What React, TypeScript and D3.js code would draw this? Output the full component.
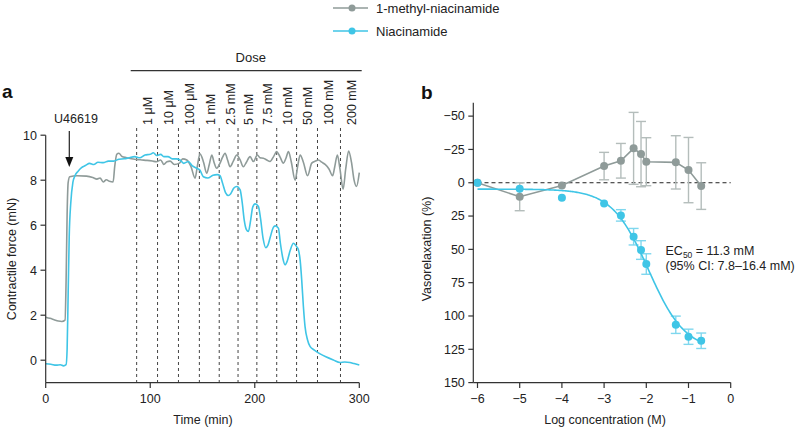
import React from "react";
import * as d3 from "d3";

// ---------- Panel a data ----------
const grayTrace: [number, number][] = [
  [0, 1.91], [4, 1.86], [8, 1.8], [12, 1.74], [15.5, 1.72], [18.5, 1.78], [19.5, 3.5], [20.5, 6.5], [21.5, 7.9],
  [23, 8.15], [30, 8.2], [39, 8.18], [45, 8.12], [49, 8.05], [52, 8.1], [55, 7.92], [58, 8.02], [61, 7.95],
  [64.5, 7.92], [66, 8.6], [68, 9.15], [70, 9.2], [73, 9.05], [77.5, 9.0], [82, 8.95], [87, 8.92], [92, 8.9],
  [97, 8.88], [102, 8.85], [106, 8.82], [110, 8.9], [113, 8.7], [116, 8.82], [119, 8.85], [123, 8.7], [128, 8.76],
  [131, 8.95], [135, 8.9], [139, 8.6], [142.9, 8.09], [145, 8.6], [147.6, 9.17], [151, 8.8], [154, 8.31],
  [156.5, 8.7], [158.9, 9.12], [161, 8.8], [163.6, 8.53], [166.8, 8.76], [169, 9.0], [171.6, 9.2], [174, 8.9],
  [176.4, 8.6], [179.5, 8.85], [182.8, 9.12], [186, 8.9], [189.1, 8.6], [192, 8.8], [195.5, 9.05], [198.7, 8.83],
  [202.5, 9.12], [205, 9.0], [208.2, 8.98], [211.5, 8.9], [214.6, 8.83], [218, 9.05], [221, 9.27], [224, 9.05],
  [227.4, 8.76], [230, 9.0], [232.2, 9.27], [235, 8.8], [238.6, 8.0], [241, 8.6], [243.4, 9.12], [246.5, 8.8],
  [250.5, 8.2], [254.5, 8.76], [258, 8.85], [261, 8.9], [264, 8.8], [267.3, 8.7], [271, 8.5], [274.5, 8.2],
  [276.5, 8.6], [279, 9.12], [281.5, 8.5], [284.5, 7.6], [287, 8.5], [289.8, 9.3], [292.5, 8.8], [295, 8.0],
  [297.3, 7.72], [300, 8.34],
];

const cyanTrace: [number, number][] = [
  [0, -0.16], [5, -0.18], [10, -0.22], [14, -0.2], [17, -0.25], [19.5, -0.2], [20.5, 0.5], [21.5, 3.0],
  [22.5, 5.5], [24, 7.0], [26, 7.9], [28, 8.2], [31, 8.4], [34, 8.55], [38, 8.65], [42, 8.75], [46, 8.7],
  [50, 8.8], [55, 8.78], [60, 8.85], [65, 8.85], [70, 8.93], [75, 8.95], [80, 9.0], [85, 9.05], [90, 9.0],
  [95, 9.12], [100, 9.15], [103, 9.22], [106, 9.1], [110, 9.15], [113, 9.05], [117, 9.05], [121, 8.95],
  [125, 8.95], [128.5, 8.9], [132, 8.75], [136.5, 8.83], [140, 8.65], [144.5, 8.53], [147.5, 8.45],
  [150.8, 8.15], [155, 8.1], [160, 8.22], [164, 8.25], [166.8, 8.2], [169, 7.9], [172, 7.45], [174.7, 7.32],
  [177, 7.4], [180, 7.65], [182.8, 7.72], [186, 7.57], [188, 7.0], [190, 6.2], [192, 5.8], [193.9, 5.72],
  [196, 6.2], [198, 6.8], [200.3, 6.95], [203.5, 6.83], [205.5, 6.3], [208, 5.4], [210.5, 5.0], [212.5, 5.1],
  [215, 5.5], [217.8, 5.9], [219.5, 5.97], [222.6, 5.87], [224.5, 5.2], [227, 4.5], [229, 4.24], [231, 4.4],
  [234, 4.9], [237, 5.2], [240, 5.05], [241.8, 4.9], [243.5, 4.4], [244.9, 3.57], [246.5, 2.4], [248.1, 1.49],
  [250.5, 0.9], [253, 0.6], [257, 0.45], [262.5, 0.28], [268, 0.15], [275.2, 0.01], [281.6, -0.1],
  [286, -0.08], [291, -0.1], [295, -0.15], [300, -0.21],
];

const doseTimes = [87, 107, 127, 147, 166, 184, 202, 221, 240, 260, 282];
const doseLabels = ["1 μM", "10 μM", "100 μM", "1 mM", "2.5 mM", "5 mM", "7.5 mM", "10 mM", "50 mM", "100 mM", "200 mM"];
const timeTicks = [0, 100, 200, 300];
const forceTicks = [0, 2, 4, 6, 8, 10];

// ---------- Panel b data ----------
const logConc = [-6, -5, -4, -3, -2.602, -2.301, -2.125, -2, -1.301, -1, -0.699];
const methylMean = [0, 10.5, 2, -12.5, -16.5, -25.8, -21.5, -15.8, -15.3, -9.5, 2.5];
const methylErr = [0, 10.5, 0, 10.3, 13, 27, 24.5, 18, 20, 24.5, 17.5];
const niaMean = [0, 4.5, 11.3, 15.5, 24.5, 40.5, 50.5, 61, 106.6, 115.6, 118.6];
const niaErr = [0, 0, 0, 0, 4.3, 6.2, 7, 7.7, 6.5, 5.7, 5.8];
const logTicks = [-6, -5, -4, -3, -2, -1, 0];
const relaxTicks = [-50, -25, 0, 25, 50, 75, 100, 125, 150];
// Hill fit parameters
const fitBottom = 4.8;
const fitTop = 126;
const fitLogEC50 = Math.log10(0.0113);
const fitHill = 1.0;

const GRAY = "#8f9b99";
const GRAY_ERR = "#b4bdbb";
const CYAN = "#3fc5e6";
const CYAN_ERR = "#7fd7ee";
const AXIS = "#333";
const FONT = "Liberation Sans, Arial, sans-serif";

export default function App() {
  // Panel a scales
  const xa = d3.scaleLinear().domain([0, 300]).range([45.7, 359.3]);
  const ya = d3.scaleLinear().domain([-1, 10]).range([382.7, 135.2]);
  const lineA = d3
    .line<[number, number]>()
    .x((d) => xa(d[0]))
    .y((d) => ya(d[1]))
    .curve(d3.curveMonotoneX);

  // Panel b scales
  const xb = d3.scaleLinear().domain([-6, 0]).range([477.5, 730.7]);
  const yb = d3.scaleLinear().domain([-60, 150]).range([102.8, 382.6]);
  const yAxisBX = 473.3;

  const fitXs = d3.range(0, 201).map((i) => -6 + (i / 200) * (-0.699 + 6));
  const hill = (x: number) => fitBottom + (fitTop - fitBottom) / (1 + Math.pow(10, (fitLogEC50 - x) * fitHill));
  const fitLine = d3
    .line<number>()
    .x((x) => xb(x))
    .y((x) => yb(hill(x)));

  const methylLine = d3
    .line<number>()
    .x((_, i) => xb(logConc[i]))
    .y((v) => yb(v));

  const capW = 5;

  return (
    <svg width={798} height={429} style={{ position: "absolute", left: 0, top: 0 }} fontFamily={FONT}>
      <rect width={798} height={429} fill="#fff" />

      {/* Legend */}
      <g>
        <line x1={333} x2={368} y1={8} y2={8} stroke={GRAY} strokeWidth={1.5} />
        <circle cx={352} cy={8} r={3.5} fill={GRAY} />
        <text x={376} y={12.5} fontSize={13} fill="#222">1-methyl-niacinamide</text>
        <line x1={333} x2={368} y1={31} y2={31} stroke={CYAN} strokeWidth={1.5} />
        <circle cx={352} cy={31} r={3.5} fill={CYAN} />
        <text x={376} y={35.5} fontSize={13} fill="#222">Niacinamide</text>
      </g>

      {/* Panel labels */}
      <text x={2} y={98} fontSize={19} fontWeight="bold" fill="#111">a</text>
      <text x={421} y={98.5} fontSize={19} fontWeight="bold" fill="#111">b</text>

      {/* ---------- Panel a ---------- */}
      <text x={250.7} y={62} fontSize={13} textAnchor="middle" fill="#222">Dose</text>
      <line x1={130.7} x2={361.7} y1={70.7} y2={70.7} stroke={AXIS} strokeWidth={1.2} />

      {doseTimes.map((t, i) => (
        <g key={"dose" + i}>
          <line x1={xa(t)} x2={xa(t)} y1={128} y2={382.7} stroke="#444" strokeWidth={1} strokeDasharray="3,3" />
          <text
            transform={`translate(${xa(t) + 11},125) rotate(-90)`}
            textAnchor="start"
            dy="0.35em"
            fontSize={12.5}
            fill="#222"
          >
            {doseLabels[i]}
          </text>
        </g>
      ))}

      <path d={lineA(grayTrace) || ""} fill="none" stroke={GRAY} strokeWidth={1.6} />
      <path d={lineA(cyanTrace) || ""} fill="none" stroke={CYAN} strokeWidth={1.6} />

      {/* U46619 arrow */}
      <text x={76} y={122.5} fontSize={12.5} textAnchor="middle" fill="#222">U46619</text>
      <line x1={69.3} x2={69.3} y1={131} y2={158} stroke="#222" strokeWidth={1.2} />
      <path d={`M${69.3 - 4},157 L${69.3 + 4},157 L69.3,167 Z`} fill="#111" />

      {/* axes a */}
      <line x1={45.7} x2={45.7} y1={ya(10)} y2={382.7} stroke={AXIS} strokeWidth={1.2} />
      <line x1={45.7} x2={359.3} y1={382.7} y2={382.7} stroke={AXIS} strokeWidth={1.2} />
      {forceTicks.map((v) => (
        <g key={"fy" + v}>
          <line x1={40.5} x2={45.7} y1={ya(v)} y2={ya(v)} stroke={AXIS} strokeWidth={1.2} />
          <text x={37} y={ya(v)} dy="0.35em" textAnchor="end" fontSize={12.5} fill="#222">{v}</text>
        </g>
      ))}
      {timeTicks.map((v) => (
        <g key={"tx" + v}>
          <line x1={xa(v)} x2={xa(v)} y1={382.7} y2={388} stroke={AXIS} strokeWidth={1.2} />
          <text x={xa(v)} y={403} textAnchor="middle" fontSize={12.5} fill="#222">{v}</text>
        </g>
      ))}
      <text x={203} y={424} textAnchor="middle" fontSize={12.5} fill="#222">Time (min)</text>
      <text transform="translate(12,259) rotate(-90)" textAnchor="middle" dy="0.35em" fontSize={12.5} fill="#222">
        Contractile force (mN)
      </text>

      {/* ---------- Panel b ---------- */}
      <line x1={xb(-6)} x2={xb(0)} y1={yb(0)} y2={yb(0)} stroke="#222" strokeWidth={1} strokeDasharray="4,3" />

      {/* methyl error bars */}
      {logConc.map((x, i) =>
        methylErr[i] > 0 ? (
          <g key={"me" + i} stroke={GRAY_ERR} strokeWidth={1.4}>
            <line x1={xb(x)} x2={xb(x)} y1={yb(methylMean[i] - methylErr[i])} y2={yb(methylMean[i] + methylErr[i])} />
            <line x1={xb(x) - capW} x2={xb(x) + capW} y1={yb(methylMean[i] - methylErr[i])} y2={yb(methylMean[i] - methylErr[i])} />
            <line x1={xb(x) - capW} x2={xb(x) + capW} y1={yb(methylMean[i] + methylErr[i])} y2={yb(methylMean[i] + methylErr[i])} />
          </g>
        ) : null
      )}
      <path d={methylLine(methylMean) || ""} fill="none" stroke={GRAY} strokeWidth={1.6} />
      {logConc.map((x, i) => (
        <circle key={"mc" + i} cx={xb(x)} cy={yb(methylMean[i])} r={4} fill={GRAY} />
      ))}

      {/* niacinamide */}
      {logConc.map((x, i) =>
        niaErr[i] > 0 ? (
          <g key={"ne" + i} stroke={CYAN_ERR} strokeWidth={1.4}>
            <line x1={xb(x)} x2={xb(x)} y1={yb(niaMean[i] - niaErr[i])} y2={yb(niaMean[i] + niaErr[i])} />
            <line x1={xb(x) - capW} x2={xb(x) + capW} y1={yb(niaMean[i] - niaErr[i])} y2={yb(niaMean[i] - niaErr[i])} />
            <line x1={xb(x) - capW} x2={xb(x) + capW} y1={yb(niaMean[i] + niaErr[i])} y2={yb(niaMean[i] + niaErr[i])} />
          </g>
        ) : null
      )}
      <path d={fitLine(fitXs) || ""} fill="none" stroke={CYAN} strokeWidth={1.6} />
      {logConc.map((x, i) => (
        <circle key={"nc" + i} cx={xb(x)} cy={yb(niaMean[i])} r={4} fill={CYAN} />
      ))}

      {/* EC50 annotation */}
      <text x={665.5} y={255} fontSize={12.5} fill="#222">
        EC<tspan fontSize={8.5} dy={3}>50</tspan>
        <tspan dy={-3}> = 11.3 mM</tspan>
      </text>
      <text x={665.5} y={269.5} fontSize={12.5} fill="#222">(95% CI: 7.8–16.4 mM)</text>

      {/* axes b */}
      <line x1={yAxisBX} x2={yAxisBX} y1={yb(-60)} y2={382.6} stroke={AXIS} strokeWidth={1.2} />
      <line x1={yAxisBX} x2={xb(0)} y1={382.6} y2={382.6} stroke={AXIS} strokeWidth={1.2} />
      {relaxTicks.map((v) => (
        <g key={"ry" + v}>
          <line x1={yAxisBX - 5} x2={yAxisBX} y1={yb(v)} y2={yb(v)} stroke={AXIS} strokeWidth={1.2} />
          <text x={yAxisBX - 8.5} y={yb(v)} dy="0.35em" textAnchor="end" fontSize={12.5} fill="#222">
            {v < 0 ? "−" + Math.abs(v) : v}
          </text>
        </g>
      ))}
      {logTicks.map((v) => (
        <g key={"lx" + v}>
          <line x1={xb(v)} x2={xb(v)} y1={382.6} y2={388} stroke={AXIS} strokeWidth={1.2} />
          <text x={xb(v)} y={403} textAnchor="middle" fontSize={12.5} fill="#222">
            {v < 0 ? "−" + Math.abs(v) : v}
          </text>
        </g>
      ))}
      <text x={605} y={424} textAnchor="middle" fontSize={12.5} fill="#222">Log concentration (M)</text>
      <text transform="translate(427,249) rotate(-90)" textAnchor="middle" dy="0.35em" fontSize={12.5} fill="#222">
        Vasorelaxation (%)
      </text>
    </svg>
  );
}
